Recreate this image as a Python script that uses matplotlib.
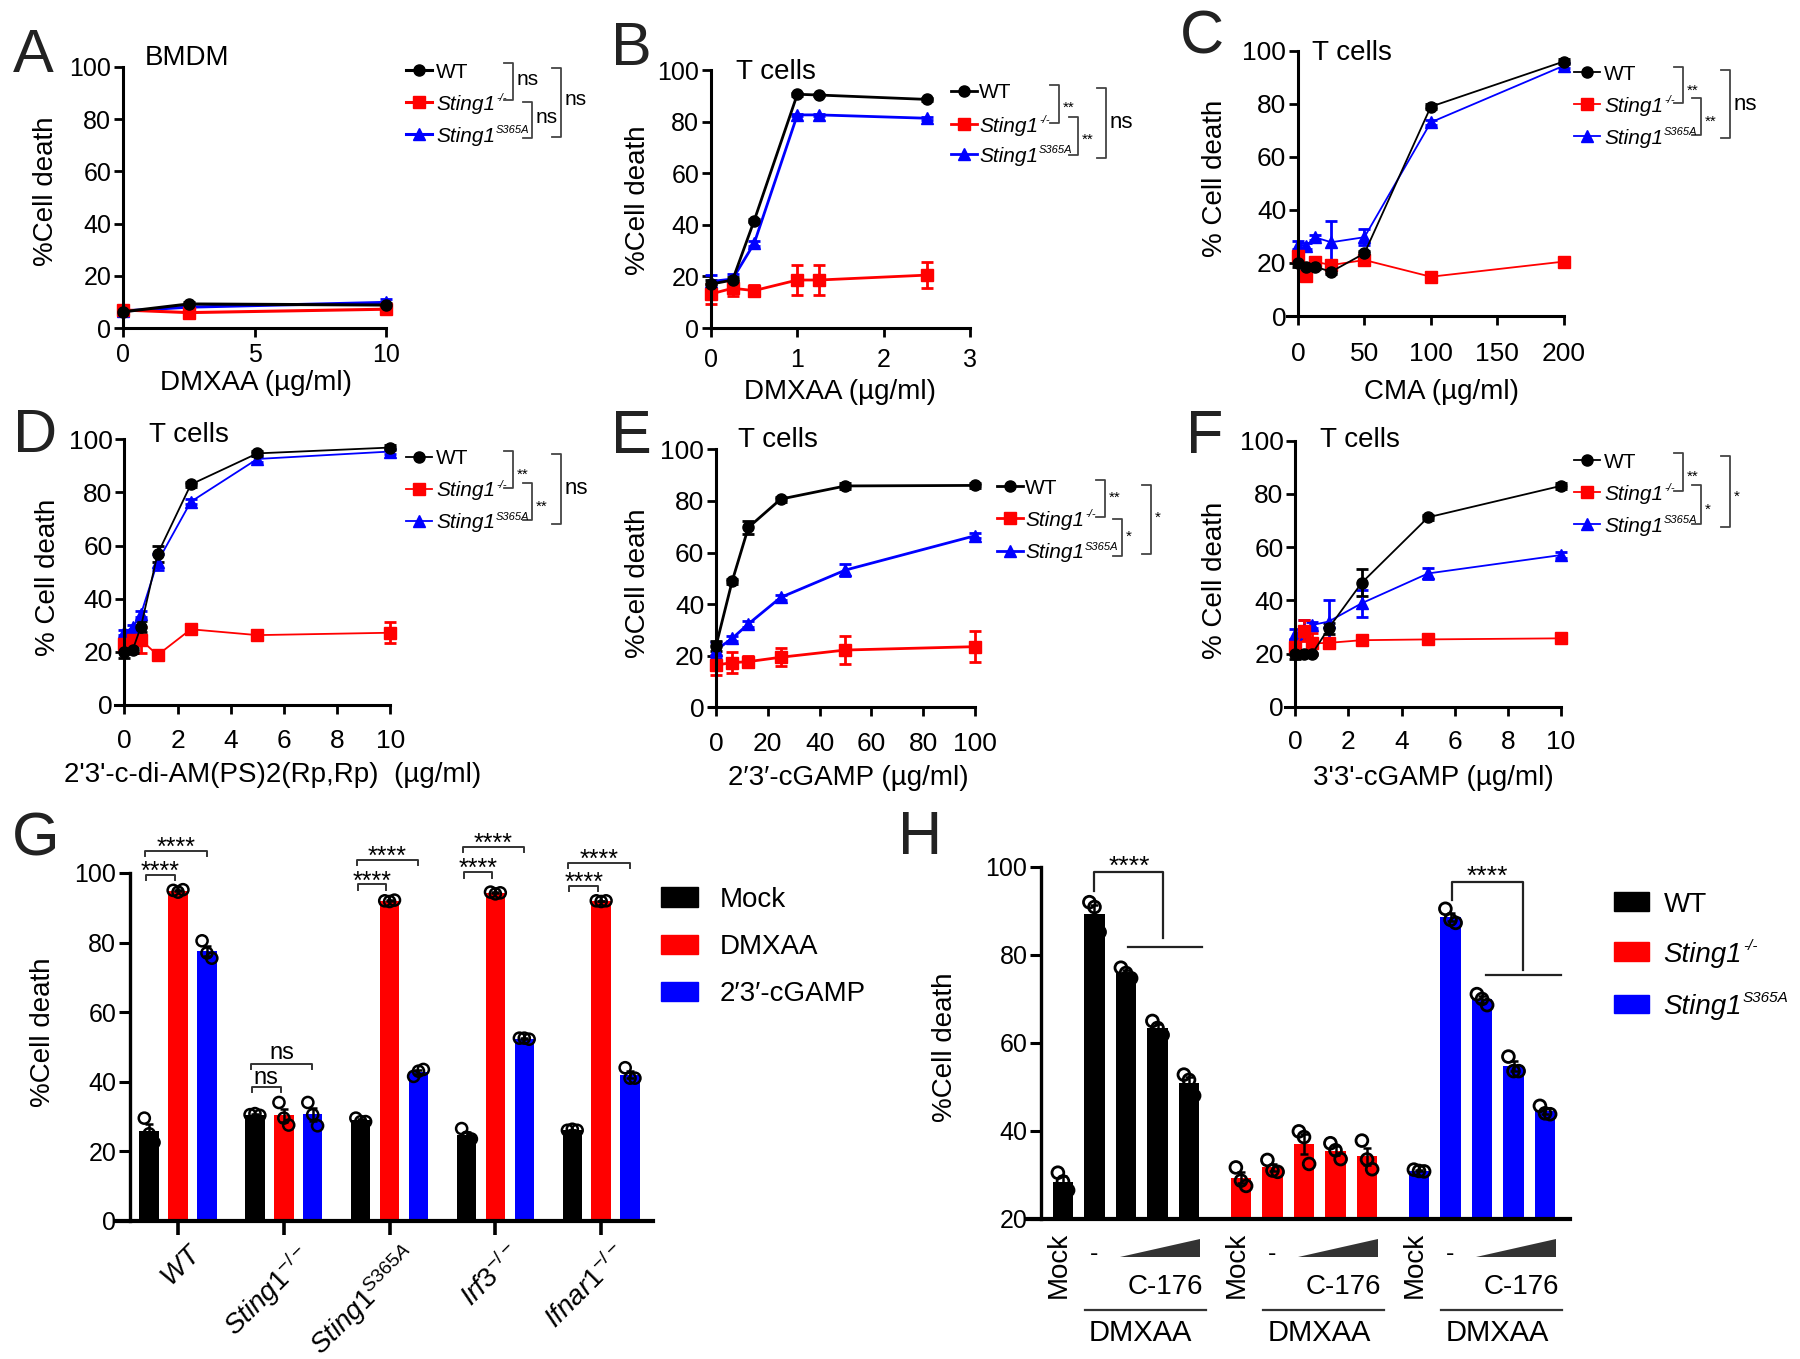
import numpy as np
import matplotlib
matplotlib.use("Agg")
import matplotlib.pyplot as plt
from matplotlib import transforms
from matplotlib.lines import Line2D
from matplotlib.patches import Rectangle, Polygon

plt.rcParams['font.family'] = ['Liberation Sans', 'DejaVu Sans']
plt.rcParams['mathtext.fontset'] = 'custom'
plt.rcParams['mathtext.rm'] = 'Liberation Sans'
plt.rcParams['mathtext.it'] = 'Liberation Sans:italic'
plt.rcParams['mathtext.bf'] = 'Liberation Sans:bold'

W, H = 1800, 1359

KO = r'$\mathit{Sting1}^{-/-}$'
SA = r'$\mathit{Sting1}^{\mathit{S365A}}$'
# legend labels as (text, superscript)
genotypes = [('WT', ''), ('Sting1', '-/-'), ('Sting1', 'S365A')]
colors = ['black', '#ff0000', '#0000ff']
markers = ['o', 's', '^']

# A - BMDM, DMXAA
a_x = [0, 2.5, 10]
a_wt = [6.2, 9.2, 8.8]
a_ko = [6.9, 5.9, 7.2]
a_sa = [6.5, 8.0, 9.8]
a_wt_err = [0.5, 0.8, 0.8]
a_ko_err = [0.8, 0.5, 0.8]
a_sa_err = [0.5, 0.5, 1.5]

# B - T cells, DMXAA
b_x = [0, 0.25, 0.5, 1, 1.25, 2.5]
b_wt = [17.0, 18.6, 41.6, 90.6, 90.3, 88.6]
b_ko = [13.2, 15.4, 14.5, 18.6, 18.6, 20.5]
b_sa = [18.0, 19.0, 32.8, 82.6, 82.6, 81.3]
b_wt_err = [1.5, 1.0, 0.5, 0.5, 0.5, 0.5]
b_ko_err = [4.0, 3.0, 2.0, 6.0, 6.0, 5.0]
b_sa_err = [2.5, 2.0, 1.0, 0.5, 0.5, 0.5]

# C - T cells, CMA
c_x = [0, 6.25, 12.5, 25, 50, 100, 200]
c_wt = [19.9, 18.6, 18.6, 16.7, 23.6, 78.9, 95.9]
c_ko = [22.7, 15.1, 20.5, 19.2, 21.1, 14.8, 20.5]
c_sa = [26.8, 26.4, 29.7, 27.8, 29.7, 73.0, 94.3]
c_wt_err = [1.5, 1.0, 1.0, 1.0, 1.0, 1.0, 1.0]
c_ko_err = [1.0, 1.0, 1.0, 1.0, 1.0, 0.5, 1.0]
c_sa_err = [1.5, 1.0, 1.0, 8.0, 3.0, 1.0, 1.0]

# D - T cells, 2'3'-c-di-AM(PS)2
d_x = [0, 0.3125, 0.625, 1.25, 2.5, 5, 10]
d_wt = [19.8, 20.7, 29.5, 56.8, 83.0, 94.7, 96.9]
d_ko = [23.0, 24.5, 24.5, 18.8, 28.5, 26.3, 27.2]
d_sa = [27.4, 29.2, 34.2, 53.9, 76.5, 92.6, 95.4]
d_wt_err = [2.0, 1.0, 2.0, 3.0, 1.0, 1.0, 1.0]
d_ko_err = [1.5, 1.0, 5.0, 1.0, 1.0, 1.0, 4.0]
d_sa_err = [1.0, 1.0, 1.0, 3.0, 1.0, 1.0, 1.0]

# E - T cells, 2'3'-cGAMP
e_x = [0, 6.25, 12.5, 25, 50, 100]
e_wt = [23.8, 48.9, 69.7, 80.7, 85.8, 86.0]
e_ko = [16.4, 17.3, 17.7, 19.4, 22.2, 23.5]
e_sa = [22.2, 26.7, 32.3, 42.6, 53.2, 66.5]
e_wt_err = [2.0, 1.0, 2.5, 1.0, 1.0, 1.0]
e_ko_err = [4.0, 4.0, 2.0, 3.5, 5.5, 6.0]
e_sa_err = [3.0, 1.0, 1.0, 1.0, 2.5, 1.0]

# F - T cells, 3'3'-cGAMP
f_x = [0, 0.3125, 0.625, 1.25, 2.5, 5, 10]
f_wt = [20.0, 20.0, 19.8, 29.5, 46.6, 71.2, 83.0]
f_ko = [22.6, 28.6, 23.8, 24.0, 25.0, 25.3, 25.7]
f_sa = [27.3, 29.0, 30.7, 32.0, 38.9, 50.1, 57.0]
f_wt_err = [2.0, 0.5, 0.5, 2.0, 5.0, 1.0, 1.0]
f_ko_err = [1.5, 4.0, 4.0, 1.0, 1.5, 1.0, 1.5]
f_sa_err = [2.0, 3.5, 1.0, 8.0, 5.0, 2.0, 1.0]

# G - bars, replicates per genotype
g_groups = [r'$\mathit{WT}$', KO, SA, r'$\mathit{Irf3}^{-/-}$', r'$\mathit{Ifnar1}^{-/-}$']
g_treat = ['Mock', 'DMXAA', '2\u20323\u2032-cGAMP']
g_mock = [[29.5, 25.0, 22.5], [30.5, 30.8, 30.3], [29.5, 28.5, 28.5], [26.5, 24.0, 23.5], [26.0, 26.3, 26.0]]
g_dmxaa = [[95.0, 94.5, 95.2], [34.0, 29.5, 27.5], [92.0, 91.8, 92.2], [94.5, 94.0, 94.3], [92.0, 91.8, 92.0]]
g_cgamp = [[80.5, 77.0, 75.5], [34.0, 30.5, 27.3], [41.5, 43.0, 43.5], [52.5, 52.5, 52.2], [44.0, 41.0, 41.0]]
g_sig = ['****', 'ns', '****', '****', '****']

# H - bars, Mock / DMXAA / DMXAA + C-176 (low, mid, high)
h_wt = [[30.5, 28.5, 26.5], [92.0, 90.9, 85.2], [77.1, 75.9, 74.7], [65.0, 63.4, 61.8], [52.8, 51.6, 48.0]]
h_ko = [[31.7, 28.7, 27.5], [33.4, 31.0, 30.7], [39.9, 38.6, 32.5], [37.2, 35.6, 33.6], [37.8, 33.5, 31.3]]
h_sa = [[31.2, 30.9, 30.8], [90.5, 88.0, 87.3], [71.1, 70.0, 68.6], [56.9, 53.6, 53.6], [45.7, 44.0, 43.8]]

fig = plt.figure(figsize=(W / 100, H / 100), dpi=100)
renderer = fig.canvas.get_renderer()
# pixel coordinates, origin top-left
PX = transforms.Affine2D().scale(1 / W, -1 / H).translate(0, 1) + fig.transFigure
IDT = transforms.IdentityTransform()


def ptext(x, y, s, **kw):
    return fig.text(x, y, s, transform=PX, **kw)


def sup_text(x, y_base, base, sup, size, sup_size):
    # base text with a small superscript after it, baseline at y_base (pixels from top)
    italic = 'normal' if base == 'WT' else 'italic'
    t = ptext(x, y_base, base, ha='left', va='baseline', size=size, style=italic)
    if sup:
        bb = t.get_window_extent(renderer)
        xd, yd = PX.transform((x, y_base))
        fig.text(bb.x1 + 1, yd + 0.42 * size / 0.72, sup, transform=IDT, ha='left',
                 va='baseline', size=sup_size, style='italic')


def add_ax(l, t, r, b):
    ax = fig.add_axes([l / W, 1 - b / H, (r - l) / W, (b - t) / H])
    ax.patch.set_alpha(0)
    for s in ['top', 'right']:
        ax.spines[s].set_visible(False)
    return ax


def line_panel(box, xlim, xticks, x, means, errs, lw, xpad, tsize=18):
    ax = add_ax(*box)
    for i in [2, 1, 0]:
        cont = ax.errorbar(x, means[i], yerr=errs[i], color=colors[i], marker=markers[i],
                           ms=9 if markers[i] == '^' else 8, lw=lw, elinewidth=2,
                           capsize=4, capthick=2)
        for art in cont.get_children():
            art.set_clip_on(False)
    ax.set_xlim(xlim)
    ax.set_ylim(0, 100)
    ax.set_xticks(xticks)
    ax.set_yticks(range(0, 101, 20))
    for s in ['left', 'bottom']:
        ax.spines[s].set_linewidth(2.2)
    if xlim[0] < 0:
        ax.spines['left'].set_position(('data', 0))
    ax.tick_params(width=2, length=6.5, labelsize=tsize)
    ax.tick_params(axis='x', pad=xpad)
    ax.tick_params(axis='y', pad=2)
    return ax


def legend(mx, rows, tx, lw):
    for i, y in enumerate(rows):
        fig.add_artist(Line2D([mx - 13, mx + 13], [y, y], transform=PX, color=colors[i], lw=lw))
        fig.add_artist(Line2D([mx], [y], transform=PX, color=colors[i], marker=markers[i],
                              ms=9 if markers[i] == '^' else 8, ls='none'))
        sup_text(tx, y + 7.5, genotypes[i][0], genotypes[i][1], 15, 8)


def bracket(x, y1, y2, lab, ly, size):
    fig.add_artist(Line2D([x - 9, x, x, x - 9], [y1, y1, y2, y2], transform=PX,
                          color='#444444', lw=1.3))
    if '*' in lab:
        base = ly + 0.57 * size / 0.72
    else:
        base = ly + 0.26 * size / 0.72
    ptext(x + 4, base, lab, ha='left', va='baseline', size=size)


def letter(x, y, s):
    ptext(x, y, s, ha='left', va='top', size=44, color='#222222')


# ---------- A ----------
line_panel((123, 67, 386, 328), (0, 10), [0, 5, 10], a_x, [a_wt, a_ko, a_sa],
           [a_wt_err, a_ko_err, a_sa_err], 2.2, 4)
letter(13, 28, 'A')
ptext(145, 58, 'BMDM', ha='left', va='center', size=20)
ptext(46, 191, '%Cell death', rotation=90, ha='center', va='center', size=20)
ptext(256, 383, 'DMXAA (\u00b5g/ml)', ha='center', va='center', size=20)
legend(419, [70, 102, 134], 436, 2.2)
bracket(513, 63, 100, 'ns', 80, 15)
bracket(532, 102, 138, 'ns', 118, 15)
bracket(561, 68, 137, 'ns', 100, 15)

# ---------- B ----------
line_panel((711, 70, 970, 328), (0, 3), [0, 1, 2, 3], b_x, [b_wt, b_ko, b_sa],
           [b_wt_err, b_ko_err, b_sa_err], 2.0, 8)
letter(611, 21, 'B')
ptext(736, 72, 'T cells', ha='left', va='center', size=20)
ptext(638, 200, '%Cell death', rotation=90, ha='center', va='center', size=20)
ptext(840, 392, 'DMXAA (\u00b5g/ml)', ha='center', va='center', size=20)
legend(964, [91, 124, 154], 979, 2.0)
bracket(1059, 85, 123, '**', 103, 11)
bracket(1078, 117, 155, '**', 135, 11)
bracket(1106, 88, 158, 'ns', 122, 16)

# ---------- C ----------
line_panel((1287, 50.7, 1563.6, 316), (-8.3, 200), [0, 50, 100, 150, 200], c_x,
           [c_wt, c_ko, c_sa], [c_wt_err, c_ko_err, c_sa_err], 1.3, 12, 19)
letter(1180, 9, 'C')
ptext(1312, 53, 'T cells', ha='left', va='center', size=20)
ptext(1215, 178, '% Cell death', rotation=90, ha='center', va='center', size=20)
ptext(1442, 392, 'CMA (\u00b5g/ml)', ha='center', va='center', size=20)
legend(1587, [72, 104, 136], 1604, 1.3)
bracket(1683, 67, 103, '**', 86, 11)
bracket(1701, 98, 135, '**', 117, 11)
bracket(1730, 70, 138, 'ns', 104, 16)

# ---------- D ----------
line_panel((115, 439.3, 390.4, 705), (-0.35, 10), [0, 2, 4, 6, 8, 10], d_x,
           [d_wt, d_ko, d_sa], [d_wt_err, d_ko_err, d_sa_err], 1.3, 11, 19)
letter(13, 408, 'D')
ptext(149, 435, 'T cells', ha='left', va='center', size=20)
ptext(48, 577, '% Cell death', rotation=90, ha='center', va='center', size=20)
ptext(273, 775, "2'3'-c-di-AM(PS)2(Rp,Rp)  (\u00b5g/ml)", ha='center', va='center', size=20)
legend(419, [457, 489, 521], 436, 1.3)
bracket(513, 451, 488, '**', 470, 11)
bracket(532, 483, 520, '**', 502, 11)
bracket(561, 454, 524, 'ns', 488, 16)

# ---------- E ----------
line_panel((709, 449.3, 975, 707.3), (-2.7, 100), [0, 20, 40, 60, 80, 100], e_x,
           [e_wt, e_ko, e_sa], [e_wt_err, e_ko_err, e_sa_err], 2.0, 11, 19)
letter(611, 409, 'E')
ptext(738, 440, 'T cells', ha='left', va='center', size=20)
ptext(638, 583, '%Cell death', rotation=90, ha='center', va='center', size=20)
ptext(848, 778, '2\u20323\u2032-cGAMP (\u00b5g/ml)', ha='center', va='center', size=20)
legend(1009.5, [486, 518, 551], 1025, 2.0)
bracket(1105, 480, 517, '**', 493, 11)
bracket(1122, 519, 556, '*', 532, 11)
bracket(1151, 485, 554, '*', 513, 11)

# ---------- F ----------
line_panel((1284.8, 440.7, 1560.8, 706.7), (-0.4, 10), [0, 2, 4, 6, 8, 10], f_x,
           [f_wt, f_ko, f_sa], [f_wt_err, f_ko_err, f_sa_err], 1.3, 10, 19)
letter(1186, 409, 'F')
ptext(1320, 440, 'T cells', ha='left', va='center', size=20)
ptext(1215, 580, '% Cell death', rotation=90, ha='center', va='center', size=20)
ptext(1433, 778, "3'3'-cGAMP (\u00b5g/ml)", ha='center', va='center', size=20)
legend(1587, [460, 492, 524], 1604, 1.3)
bracket(1683, 453, 491, '**', 472, 11)
bracket(1701, 485, 524, '*', 505, 11)
bracket(1730, 456, 527, '*', 492, 11)

# ---------- G ----------
axg = add_ax(115, 873, 653, 1220.7)
bw = 0.184
offs = [-0.273, 0.0, 0.273]
jit = [-0.25, 0.0, 0.25]
for k, reps in enumerate([g_mock, g_dmxaa, g_cgamp]):
    arr = np.array(reps)
    m = arr.mean(axis=1)
    se = arr.std(axis=1, ddof=1) / np.sqrt(3)
    xs = np.arange(len(g_groups)) + offs[k]
    axg.bar(xs, m, width=bw, color=colors[k], zorder=2)
    axg.errorbar(xs, m, yerr=se, fmt='none', ecolor='black', elinewidth=1.8, capsize=3,
                 capthick=1.8, zorder=3)
    for j in range(3):
        axg.scatter(xs + jit[j] * bw, arr[:, j], s=64, facecolors='none', edgecolors='black',
                    linewidths=1.8, zorder=4, clip_on=False)
axg.set_xlim(-0.596, 4.49)
axg.set_ylim(0, 100)
axg.spines['left'].set_position(('data', -0.454))
axg.spines['left'].set_linewidth(2.4)
axg.spines['bottom'].set_linewidth(3)
axg.set_yticks(range(0, 101, 20))
axg.set_xticks(range(len(g_groups)))
axg.set_xticklabels([])
axg.tick_params(axis='y', width=2.2, length=8, labelsize=18, pad=2)
axg.tick_params(axis='x', width=2.6, length=10)
gblend = transforms.blended_transform_factory(axg.transData, PX)
for i, lab in enumerate(g_groups):
    axg.text(i + 0.11, 1240, lab, transform=gblend, rotation=45, ha='right', va='top',
             rotation_mode='anchor', size=20)
g_in = [99.4, 38.4, 96.7, 100.2, 96.2]
g_out = [106.4, 45.1, 103.7, 107.4, 103.0]
for i, lab in enumerate(g_sig):
    for x0, x1, yb, dy in [(i - 0.30, i - 0.03, g_in[i], 3), (i - 0.31, i + 0.27, g_out[i], 5)]:
        axg.plot([x0, x0, x1, x1], [yb - 1.5, yb, yb, yb - 1.5], color='#333333', lw=1.4,
                 clip_on=False)
        if lab == 'ns':
            axg.annotate(lab, ((x0 + x1) / 2, yb), xytext=(0, dy), textcoords='offset pixels',
                         ha='center', va='baseline', size=17, annotation_clip=False)
        else:
            axg.annotate(lab, ((x0 + x1) / 2, yb), xytext=(0, -4), textcoords='offset pixels',
                         ha='center', va='baseline', size=18, annotation_clip=False)
letter(12, 812, 'G')
ptext(43, 1032, '%Cell death', rotation=90, ha='center', va='center', size=20)
for k, (lab, yc) in enumerate(zip(g_treat, [897, 944.4, 991.4])):
    fig.add_artist(Rectangle((661, yc - 9.8), 36.5, 19.6, transform=PX, color=colors[k]))
    ptext(720, yc + 10, lab, ha='left', va='baseline', size=20)

# ---------- H ----------
axh = add_ax(1026.7, 867, 1569.6, 1218.9)
hbw = 0.65
gap = 5.65
for g, reps in enumerate([h_wt, h_ko, h_sa]):
    arr = np.array(reps)
    m = arr.mean(axis=1)
    se = arr.std(axis=1, ddof=1) / np.sqrt(3)
    xs = g * gap + np.arange(len(reps))
    axh.bar(xs, m - 20, bottom=20, width=hbw, color=colors[g], zorder=2)
    axh.errorbar(xs, m, yerr=se, fmt='none', ecolor='black', elinewidth=1.8, capsize=3,
                 capthick=1.8, zorder=3)
    for j in range(3):
        axh.scatter(xs + jit[j] * hbw, arr[:, j], s=72, facecolors='none', edgecolors='black',
                    linewidths=2, zorder=4, clip_on=False)
axh.set_xlim(-1.152, 16.08)
axh.set_ylim(20, 100)
axh.spines['left'].set_position(('data', -0.686))
axh.spines['left'].set_linewidth(2.4)
axh.spines['bottom'].set_linewidth(3)
axh.set_yticks(range(20, 101, 20))
axh.set_xticks([])
axh.tick_params(axis='y', width=2.2, length=8, labelsize=18, pad=2)
# significance
for xl, yl0, ytop, xr, yr0, hx0, hx1, hy in [(1, 94.5, 98.8, 3.19, 83.8, 2.05, 4.4, 81.8),
                                             (12.35, 92.5, 96.6, 14.59, 76.5, 13.43, 15.8, 75.4)]:
    axh.plot([xl, xl, xr, xr], [yl0, ytop, ytop, yr0], color='#222222', lw=1.6, clip_on=False)
    axh.plot([hx0, hx1], [hy, hy], color='#222222', lw=1.6, clip_on=False)
    axh.annotate('****', ((xl + xr) / 2, ytop), xytext=(0, -2), textcoords='offset pixels',
                 ha='center', va='baseline', size=19, annotation_clip=False)
hblend = transforms.blended_transform_factory(axh.transData, PX)
for g in range(3):
    b0 = g * gap
    fig.add_artist(Polygon([[b0 + 1.8, 1257], [b0 + 4.35, 1257], [b0 + 4.35, 1239]],
                           closed=True, transform=hblend, facecolor='#333333', edgecolor='none'))
    fig.add_artist(Line2D([b0 + 0.71, b0 + 4.53], [1310, 1310], transform=hblend,
                          color='#333333', lw=1.6))
    fig.text(b0 - 0.12, 1232, 'Mock', transform=hblend, rotation=90, ha='center', va='top',
             size=20)
    fig.text(b0 + 1, 1254, '-', transform=hblend, ha='center', va='center', size=18)
    fig.text(b0 + 4.45, 1287, 'C-176', transform=hblend, ha='right', va='center', size=20)
    fig.text(b0 + 2.47, 1333, 'DMXAA', transform=hblend, ha='center', va='center', size=21)
letter(898, 810, 'H')
ptext(944.5, 1047, '%Cell death', rotation=90, ha='center', va='center', size=20)
for k, yc in enumerate([901.6, 951.5, 1004]):
    fig.add_artist(Rectangle((1613.6, yc - 9.3), 35.2, 18.5, transform=PX, color=colors[k]))
    sup_text(1663.4, yc + 10, genotypes[k][0], genotypes[k][1], 20, 11)

fig.savefig('out.png', dpi=100)
